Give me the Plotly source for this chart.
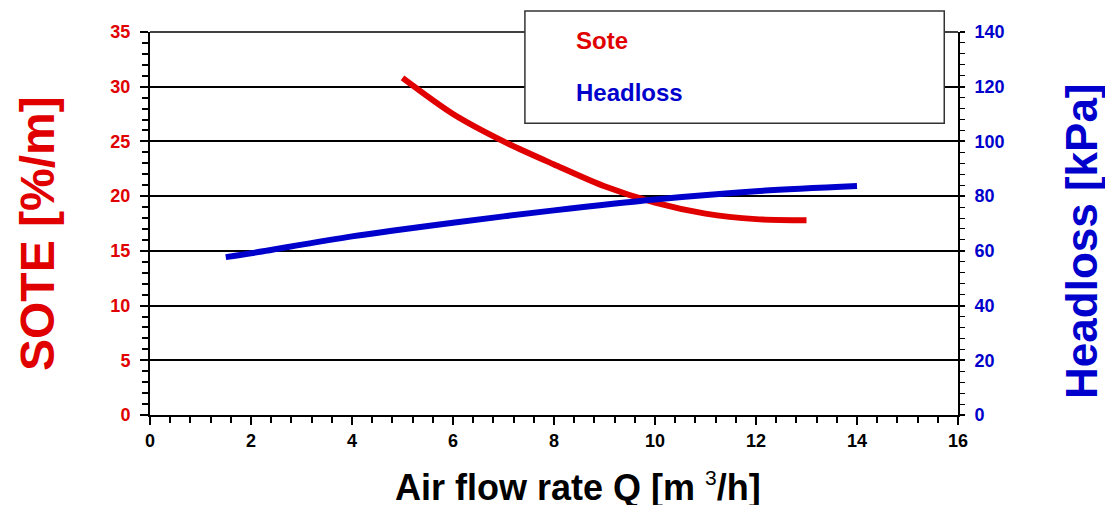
import plotly.graph_objects as go

# Data
sote_q = [5, 6, 7, 8, 9, 10, 11, 12, 13]
sote_val = [30.8, 27.5, 25.0, 22.9, 20.9, 19.4, 18.4, 17.9, 17.8]

head_q = [1.5, 2, 4, 6, 8, 10, 12, 14]
head_val = [57.7, 59.1, 65.3, 70.3, 74.8, 78.8, 81.8, 83.7]

RED = "#e00000"
BLUE = "#0000cc"
FONT = "Liberation Sans, Arial, sans-serif"

fig = go.Figure()
fig.add_trace(go.Scatter(x=sote_q, y=sote_val, mode="lines", name="Sote",
                         line=dict(color=RED, width=6, shape="spline", smoothing=0.8),
                         xaxis="x", yaxis="y"))
fig.add_trace(go.Scatter(x=head_q, y=head_val, mode="lines", name="Headloss",
                         line=dict(color=BLUE, width=6, shape="spline", smoothing=0.8),
                         xaxis="x", yaxis="y2"))

fig.update_layout(
    width=1105, height=505,
    margin=dict(l=150, r=147, t=32, b=90, autoexpand=False),
    paper_bgcolor="white", plot_bgcolor="white",
    showlegend=False,
    font=dict(family=FONT),
    xaxis=dict(
        range=[0, 16], dtick=2, tick0=0, automargin=False,
        showgrid=False, zeroline=False,
        showline=True, linecolor="black", linewidth=2,
        ticks="outside", ticklen=8, tickwidth=2, tickcolor="black",
        tickfont=dict(size=18, color="black", family=FONT, weight="bold"),
        minor=dict(dtick=0.4, ticks="outside", ticklen=6, tickwidth=2, tickcolor="black"),
    ),
    xaxis3=dict(
        range=[0, 16], dtick=2, tick0=0, overlaying="x", anchor="y", automargin=False,
        showgrid=False, zeroline=False, showline=False,
        ticks="inside", ticklen=5, tickwidth=2, tickcolor="black",
        showticklabels=False,
    ),
    yaxis=dict(
        range=[0, 35], dtick=5, tick0=0, automargin=False,
        showgrid=True, gridcolor="black", gridwidth=1.5,
        zeroline=False,
        showline=True, linecolor="black", linewidth=2,
        ticks="outside", ticklen=8, tickwidth=2, tickcolor="black",
        ticklabelstandoff=6,
        minor=dict(dtick=1, ticks="outside", ticklen=6, tickwidth=2, tickcolor="black", showgrid=False),
        tickfont=dict(size=18, color=RED, family=FONT, weight="bold"),
    ),
    yaxis2=dict(
        range=[0, 140], dtick=20, tick0=0, overlaying="y", side="right", anchor="x", automargin=False,
        showgrid=False, zeroline=False,
        showline=True, linecolor="black", linewidth=2,
        ticks="outside", ticklen=5, tickwidth=1.5, tickcolor="black",
        ticklabelstandoff=6,
        minor=dict(dtick=4, ticks="outside", ticklen=5, tickwidth=1, tickcolor="black"),
        tickfont=dict(size=18, color=BLUE, family=FONT, weight="bold"),
    ),
)

# Axis titles
fig.add_annotation(text="SOTE [%/m]", xref="paper", yref="paper", x=-0.1399, y=0.475,
                   xanchor="center", yanchor="middle", textangle=-90, showarrow=False,
                   font=dict(size=48, color=RED, family=FONT, weight="bold"))
fig.add_annotation(text="Headloss [kPa]", xref="paper", yref="paper", x=1.152, y=0.454,
                   xanchor="center", yanchor="middle", textangle=-90, showarrow=False,
                   font=dict(size=44, color=BLUE, family=FONT, weight="bold"))
fig.add_annotation(text='Air flow rate Q [m <sup><span style="font-weight:normal;font-size:21px">3</span></sup>/h]',
                   xref="paper", yref="paper", x=0.530, y=-0.188,
                   xanchor="center", yanchor="middle", showarrow=False,
                   font=dict(size=36, color="black", family=FONT, weight="bold"))

# Top border (line at y=35)
fig.add_shape(type="line", xref="paper", yref="paper", x0=0, x1=1, y0=1, y1=1,
              line=dict(color="black", width=1.5), layer="below")

# Legend box
fig.add_shape(type="rect", xref="paper", yref="paper",
              x0=0.464, x1=0.983, y0=0.762, y1=1.055,
              fillcolor="white", line=dict(color="#333333", width=1.5), layer="above")
fig.add_annotation(text="Sote", xref="paper", yref="paper", x=0.525, y=0.979,
                   xanchor="left", yanchor="middle", showarrow=False,
                   font=dict(size=24, color=RED, family=FONT, weight="bold"))
fig.add_annotation(text="Headloss", xref="paper", yref="paper", x=0.525, y=0.841,
                   xanchor="left", yanchor="middle", showarrow=False,
                   font=dict(size=24, color=BLUE, family=FONT, weight="bold"))

fig.write_html("out.html", config={"displayModeBar": False},
               post_script="document.body.style.margin='0';document.body.style.overflow='hidden';")
